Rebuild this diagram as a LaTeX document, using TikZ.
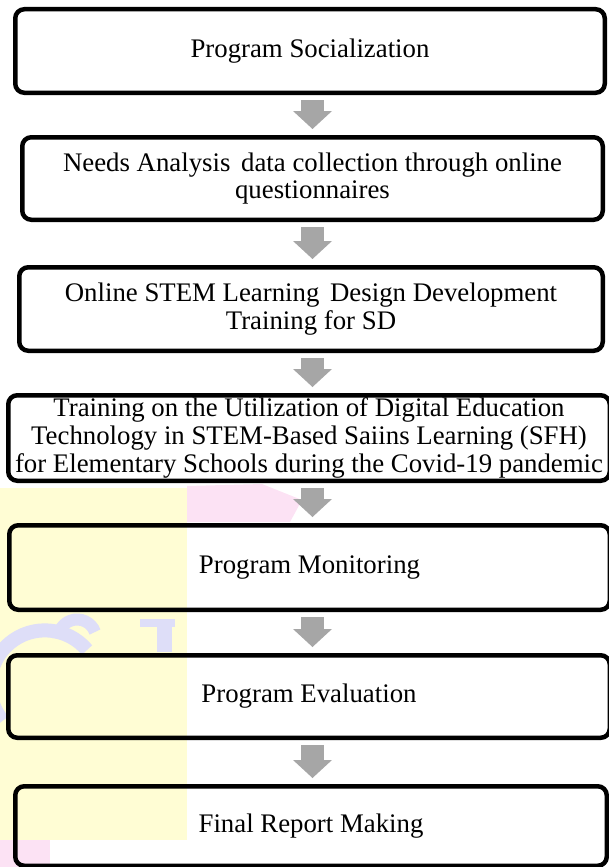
\documentclass[tikz,border=0pt]{standalone}
\usepackage{fontspec}
\setmainfont{Liberation Serif}
\usetikzlibrary{arrows.meta,calc}

\definecolor{arrowgray}{RGB}{166,166,166}
\definecolor{wmyellow}{RGB}{255,253,212}
\definecolor{wmpink}{RGB}{252,226,244}
\definecolor{wmlav}{RGB}{222,222,248}

\begin{document}
\begin{tikzpicture}[x=1pt,y=-1pt,
  stepbox/.style={draw=black, line width=4.5pt, rounded corners=9pt,
    align=center, inner sep=0pt, font=\fontsize{26.8}{27.8}\selectfont},
  flow/.style={draw=arrowgray, line width=23pt,
    -{Triangle[width=39pt,length=18pt,line width=0pt]},
    shorten <=5pt, shorten >=6pt}
]
\useasboundingbox (0,0) rectangle (608,867);

% faint logo watermark in the background
\fill[wmyellow] (0,488) rectangle (187,840);
\fill[wmpink] (187,486) -- (262,484) -- (302,500) -- (290,522) -- (187,522) -- cycle;
\fill[wmpink] (0,840) rectangle (50,867);
\draw[wmlav, line width=14pt] (87,650) arc[start angle=-40, end angle=-220, radius=55];
\draw[wmlav, line width=12pt] (95,632) arc[start angle=-20, end angle=-180, radius=19];
\fill[wmlav] (140,619) rectangle (175,627);
\fill[wmlav] (157,619) rectangle (172,652);

% process steps
\node[stepbox, minimum width=589.5pt, minimum height=83.5pt] (b1) at (310,51)
  {Program Socialization};
\node[stepbox, minimum width=580.5pt, minimum height=82.5pt] (b2) at (312.5,178.5)
  {Needs Analysis\hspace{4pt} data collection through online\\questionnaires};
\node[stepbox, minimum width=583.5pt, minimum height=83.5pt] (b3) at (311,309)
  {Online STEM Learning\hspace{4pt} Design Development\\Training for SD};
\node[stepbox, minimum width=601.5pt, minimum height=85.5pt] (b4) at (309,438)
  {Training on the Utilization of Digital Education\\Technology in STEM-Based Saiins Learning (SFH)\\for Elementary Schools during the Covid-19 pandemic};
\node[stepbox, minimum width=600.5pt, minimum height=84.5pt] (b5) at (309.5,567.5)
  {Program Monitoring};
\node[stepbox, minimum width=601.5pt, minimum height=82.5pt] (b6) at (309,696.5)
  {Program Evaluation};
\node[stepbox, minimum width=591.5pt, minimum height=79.5pt] (b7) at (311,826)
  {Final Report Making};

% block arrows between the steps
\coordinate (ax) at (312.5,0);
\draw[flow] (b1.south -| ax) -- (b2.north -| ax);
\draw[flow] (b2.south -| ax) -- (b3.north -| ax);
\draw[flow] (b3.south -| ax) -- (b4.north -| ax);
\draw[flow] (b4.south -| ax) -- (b5.north -| ax);
\draw[flow] (b5.south -| ax) -- (b6.north -| ax);
\draw[flow] (b6.south -| ax) -- (b7.north -| ax);
\end{tikzpicture}
\end{document}
